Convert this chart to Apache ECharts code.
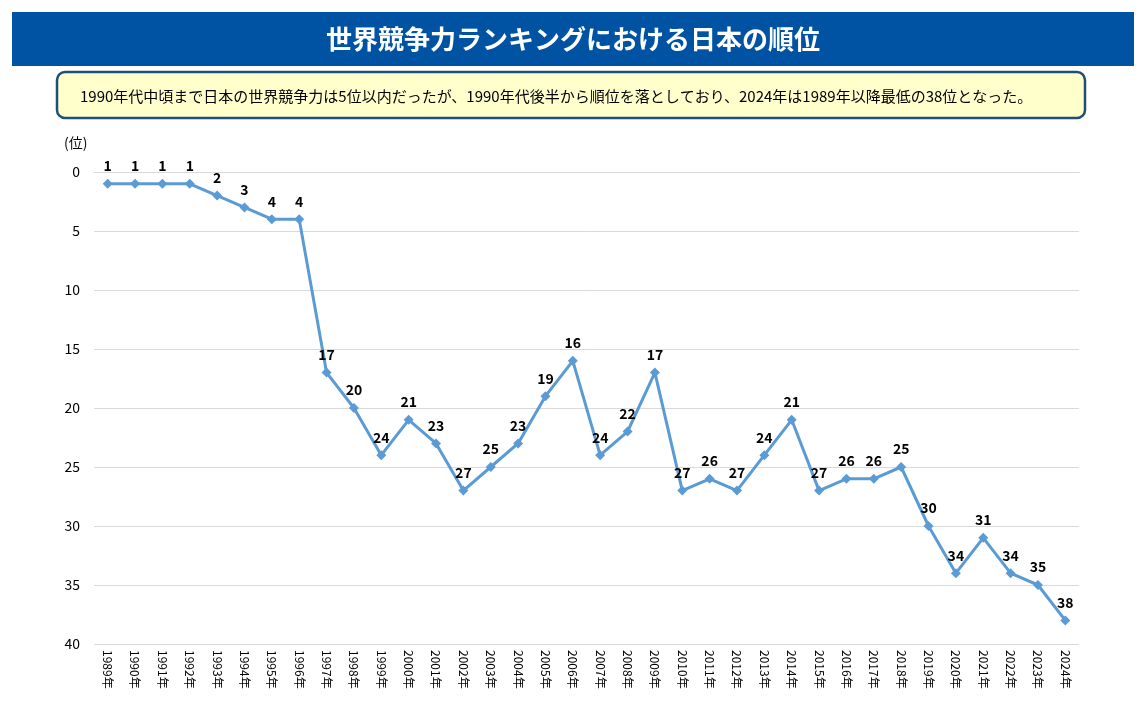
<!DOCTYPE html>
<html><head><meta charset="utf-8">
<script src="https://cdn.jsdelivr.net/npm/echarts@6/dist/echarts.min.js"></script>
<style>html,body{margin:0;padding:0;background:#fff}#c{width:1146px;height:709px}</style>
</head><body><div id="c"></div>
<script>
const years = []
for (let y = 1989; y <= 2024; y++) years.push(y + '年')
const ranks = [1,1,1,1,2,3,4,4,17,20,24,21,23,27,25,23,19,16,24,22,17,27,26,27,24,21,27,26,26,25,30,34,31,34,35,38]
const yTicks = { min: 0, max: 40, interval: 5 }

const font = '"Noto Sans CJK JP", sans-serif'
const chart = echarts.init(document.getElementById('c'))
chart.setOption({
  animation: false,
  graphic: [
    { type: 'rect', shape: { x: 12, y: 12, width: 1122, height: 54 }, style: { fill: '#0052a3' } },
    { type: 'text', x: 573, y: 39, style: { text: '世界競争力ランキングにおける日本の順位', fill: '#fff', font: 'bold 26px ' + font, align: 'center', verticalAlign: 'middle' } },
    { type: 'rect', shape: { x: 57, y: 72, width: 1028, height: 46, r: 8 }, style: { fill: '#ffffcc', stroke: '#1f4e79', lineWidth: 2.5 } },
    { type: 'text', x: 80, y: 96, style: { text: '1990年代中頃まで日本の世界競争力は5位以内だったが、1990年代後半から順位を落としており、2024年は1989年以降最低の38位となった。', fill: '#000', font: '15px ' + font, verticalAlign: 'middle' } },
    { type: 'text', x: 64, y: 143, style: { text: '(位)', fill: '#000', font: '14px ' + font, verticalAlign: 'middle' } }
  ],
  grid: { left: 94, right: 67, top: 172, bottom: 65 },
  xAxis: {
    type: 'category', data: years, boundaryGap: true,
    axisLine: { lineStyle: { color: '#d9d9d9' } }, axisTick: { show: false },
    axisLabel: { rotate: -90, interval: 0, color: '#000', fontSize: 12, fontFamily: font, margin: 6 }
  },
  yAxis: {
    type: 'value', inverse: true, min: yTicks.min, max: yTicks.max, interval: yTicks.interval,
    axisLine: { show: false }, axisTick: { show: false },
    splitLine: { lineStyle: { color: '#d9d9d9' } },
    axisLabel: { color: '#000', fontSize: 14, fontFamily: font, margin: 14 }
  },
  series: [{
    type: 'line', data: ranks, symbol: 'diamond', symbolSize: 10,
    lineStyle: { color: '#5b9bd5', width: 3 }, itemStyle: { color: '#5b9bd5' },
    label: { show: true, position: 'top', distance: 6, color: '#000', fontWeight: 'bold', fontSize: 14, fontFamily: font }
  }]
})
</script></body></html>
